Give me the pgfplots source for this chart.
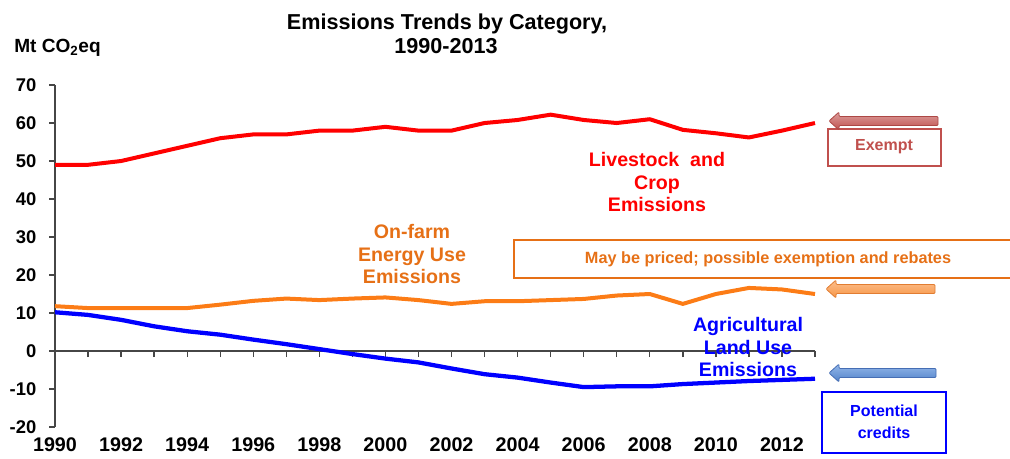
\documentclass[border=0pt]{standalone}
\usepackage{fontspec}
\setmainfont{Liberation Sans}
\usepackage{pgfplots}
\pgfplotsset{compat=1.18}

\definecolor{lsRed}{RGB}{255,0,0}
\definecolor{efOrange}{RGB}{252,124,22}
\definecolor{efText}{RGB}{230,112,22}
\definecolor{luBlue}{RGB}{0,0,255}
\definecolor{axisGray}{RGB}{70,70,70}
\definecolor{exRed}{RGB}{192,80,77}

\pgfplotstableread{
year livestock energy landuse
1990 49.0 11.8 10.2
1991 49.0 11.3 9.5
1992 50.0 11.3 8.2
1993 52.0 11.3 6.5
1994 54.0 11.3 5.2
1995 56.0 12.2 4.3
1996 57.0 13.2 3.0
1997 57.0 13.8 1.8
1998 58.0 13.4 0.5
1999 58.0 13.8 -0.8
2000 59.0 14.1 -2.0
2001 58.0 13.4 -3.0
2002 58.0 12.4 -4.6
2003 60.0 13.1 -6.1
2004 60.8 13.1 -7.0
2005 62.2 13.4 -8.3
2006 60.8 13.7 -9.5
2007 60.0 14.6 -9.3
2008 61.0 15.0 -9.3
2009 58.2 12.4 -8.7
2010 57.3 15.0 -8.3
2011 56.2 16.6 -7.9
2012 58.0 16.2 -7.6
2013 60.0 15.0 -7.3
}\emissions

\begin{document}
\begin{tikzpicture}
\path[use as bounding box] (0pt,0pt) rectangle (757.5pt,-343.5pt);

\begin{axis}[
  at={(41.25pt,-320.25pt)}, anchor=south west,
  scale only axis, width=570pt, height=256.5pt,
  xmin=1990, xmax=2013, ymin=-20, ymax=70,
  axis x line*=middle, axis y line*=left,
  hide obscured x ticks=false,
  axis line style={draw=axisGray, line width=1pt},
  xtick={1990,1992,...,2012},
  minor xtick={1991,1993,...,2013},
  ytick={-20,-10,...,70},
  tick style={draw=axisGray, line width=1pt},
  tick align=outside, major tick length=4.5pt, minor tick length=4.5pt,
  /pgf/number format/1000 sep={},
  /pgf/number format/assume math mode=true,
  xticklabel style={font=\fontsize{14.8}{16}\selectfont\bfseries, text=black, yshift=-59.5pt, inner ysep=1pt},
  yticklabel style={font=\fontsize{13.8}{16}\selectfont\bfseries, text=black, xshift=-6pt},
  clip=false,
]
  \addplot[lsRed, line width=3pt, line join=round] table[x=year, y=livestock] {\emissions};
  \addplot[efOrange, line width=3pt, line join=round] table[x=year, y=energy] {\emissions};
  \addplot[luBlue, line width=3.2pt, line join=round] table[x=year, y=landuse] {\emissions};
\end{axis}

\begin{scope}[x=0.75pt, y=-0.75pt]
  % titles
  \node[font=\fontsize{16.2}{18}\selectfont\bfseries] at (447,24) {Emissions Trends by Category,};
  \node[font=\fontsize{16.2}{18}\selectfont\bfseries] at (446,46) {1990-2013};
  \node[font=\fontsize{14.3}{16}\selectfont\bfseries, anchor=west, inner sep=0pt] at (14,48) {Mt CO\textsubscript{2}eq};

  % series labels
  \node[font=\fontsize{14.7}{16.9}\selectfont\bfseries, text=lsRed, align=center] at (657,182)
    {Livestock\ \ and\\Crop\\Emissions};
  \node[font=\fontsize{14.7}{16.9}\selectfont\bfseries, text=efText, align=center] at (412,254)
    {On-farm\\Energy Use\\Emissions};
  \node[font=\fontsize{14.7}{16.9}\selectfont\bfseries, text=luBlue, align=center] at (748,347)
    {Agricultural\\Land Use\\Emissions};

  % policy boxes
  \draw[exRed, line width=1.2pt] (828,129) rectangle (941,166);
  \node[font=\fontsize{12}{14}\selectfont\bfseries, text=exRed] at (884,147) {Exempt};

  \begin{scope}
    \clip (0,0) rectangle (1010,458);
    \draw[efText, line width=1.2pt] (514,240) rectangle (1020,278);
  \end{scope}
  \node[font=\fontsize{12.2}{14}\selectfont\bfseries, text=efText] at (768,259) {May be priced; possible exemption and rebates};

  \draw[luBlue, line width=1.5pt] (822,392) rectangle (946,453);
  \node[font=\fontsize{12}{16.5}\selectfont\bfseries, text=luBlue, align=center] at (884,422) {Potential\\credits};

  % block arrows
  \path[draw=exRed!90!black, line width=0.6pt, rounded corners=0.8pt, top color=exRed!55!white, bottom color=exRed]
    (829,121) -- (839,112) -- (839,116.5) -- (938,116.5) -- (938,125.5) -- (839,125.5) -- (839,130) -- cycle;
  \path[draw={rgb,255:red,225;green,125;blue,50}, line width=0.6pt, rounded corners=0.8pt, top color={rgb,255:red,252;green,190;blue,140}, bottom color={rgb,255:red,247;green,150;blue,70}]
    (826,289) -- (836,280) -- (836,284.5) -- (935,284.5) -- (935,293.5) -- (836,293.5) -- (836,298) -- cycle;
  \path[draw={rgb,255:red,70;green,110;blue,180}, line width=0.6pt, rounded corners=0.8pt, top color={rgb,255:red,150;green,185;blue,235}, bottom color={rgb,255:red,79;green,129;blue,200}]
    (829,373) -- (839,364) -- (839,368.5) -- (936,368.5) -- (936,377.5) -- (839,377.5) -- (839,382) -- cycle;
\end{scope}
\end{tikzpicture}
\end{document}
